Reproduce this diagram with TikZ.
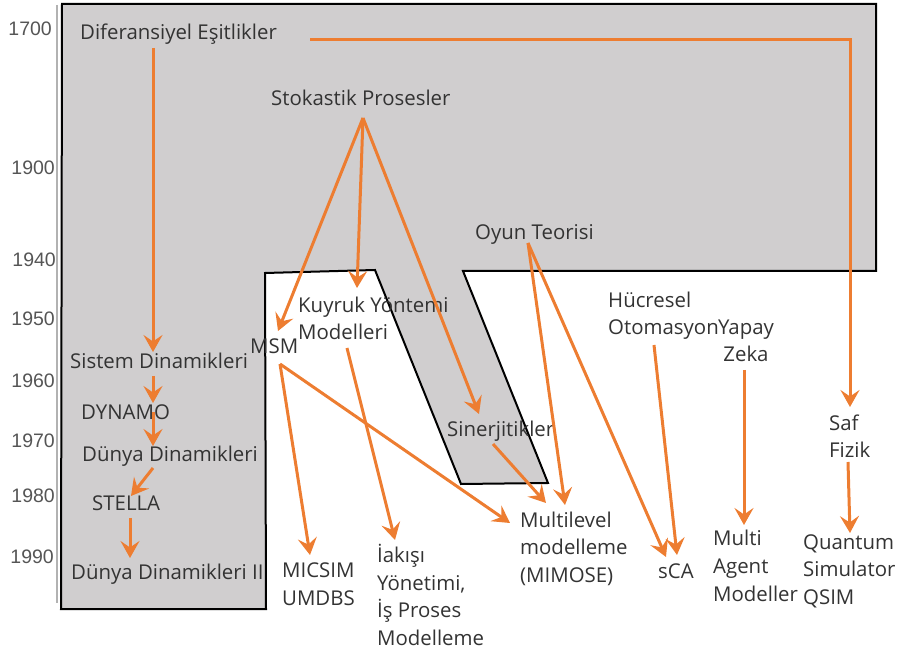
\documentclass[tikz,border=0pt]{standalone}
\usepackage{fontspec}
\setmainfont{Open Sans}
\newfontfamily\yearfont{Liberation Sans}
\usetikzlibrary{arrows.meta}
\definecolor{og}{HTML}{ED7D31}
\definecolor{gfill}{HTML}{D0CECF}
\definecolor{txt}{HTML}{333333}
\definecolor{yr}{HTML}{555555}
\begin{document}
\begin{tikzpicture}[x=1pt,y=-1pt,
 lbl/.style={anchor=base west,inner sep=0pt,text=txt,font=\fontsize{20.4}{27.5}\selectfont,align=left},
 clbl/.style={anchor=base,inner sep=0pt,text=txt,font=\fontsize{20.4}{27.5}\selectfont,align=center},
 yearlbl/.style={anchor=base east,inner sep=0pt,text=yr,font=\yearfont\fontsize{19.5}{21}\selectfont},
 arr/.style={draw=og,line width=3pt,-{Stealth[length=17pt,width=19pt,inset=6.5pt]}},
 conn/.style={draw=og,line width=3pt}]
\useasboundingbox (0,0) rectangle (906,652);
% timeline axis
\draw[gray!60,line width=1.2pt] (57,5) -- (57,603);
% grey region
\draw[fill=gfill,line width=2pt,line join=miter] (62,4) -- (876,4) -- (876,271) -- (463,271) -- (548,483) -- (461,484) -- (375,270) -- (265,273) -- (266,609) -- (61,609) -- cycle;
% years
\node[yearlbl] (y1700) at (52,36) {1700};
\node[yearlbl] (y1900) at (55,175) {1900};
\node[yearlbl] (y1940) at (56,267) {1940};
\node[yearlbl] (y1950) at (55,326) {1950};
\node[yearlbl] (y1960) at (55,388) {1960};
\node[yearlbl] (y1970) at (55,448) {1970};
\node[yearlbl] (y1980) at (55,503) {1980};
\node[yearlbl] (y1990) at (54,563) {1990};
% labels (base anchor = baseline of the last line)
\node[lbl] (dif) at (80,40) {Diferansiyel Eşitlikler};
\node[lbl] (stok) at (271,106) {Stokastik Prosesler};
\node[lbl] (oyun) at (475,240) {Oyun Teorisi};
\node[lbl] (sd) at (70,369) {Sistem Dinamikleri};
\node[lbl] (dyn) at (81,420) {DYNAMO};
\node[lbl] (dd) at (82,462) {Dünya Dinamikleri};
\node[lbl] (stella) at (92,511) {STELLA};
\node[lbl] (dd2) at (71,579) {Dünya Dinamikleri II};
\node[lbl] (msm) at (250,354) {MSM};
\node[lbl] (kuy) at (298,340) {Kuyruk Yöntemi\\Modelleri};
\node[lbl] (sin) at (447,437) {Sinerjitikler};
\node[lbl] (huc) at (608,335) {Hücresel\\Otomasyon};
\node[clbl] (yz) at (746,362) {Yapay\\Zeka};
\node[lbl] (saf) at (829,458) {Saf\\Fizik};
\node[lbl] (mim) at (520,582) {Multilevel\\modelleme\\(MIMOSE)};
\node[lbl] (mic) at (282,605) {MICSIM\\UMDBS};
\node[lbl] (isak) at (377,645) {İakışı\\Yönetimi,\\İş Proses\\Modelleme};
\node[lbl] (sca) at (658,578) {sCA};
\node[lbl] (mam) at (713,601) {Multi\\Agent\\Modeller};
\node[lbl] (qs) at (803,604) {Quantum\\Simulator\\QSIM};
% connector end points
\coordinate (difOut) at (153,48);
\coordinate (difOutR) at (310,40);
\coordinate (sdIn) at (153,352);
\coordinate (safIn) at (850,407);
\coordinate (stokOut) at (363,118);
\coordinate (msmIn) at (278,331);
\coordinate (kuyIn) at (357,288);
\coordinate (sinIn) at (479,414);
\coordinate (sdOut) at (153,376);
\coordinate (dynIn) at (153,403);
\coordinate (dynOut) at (153,412);
\coordinate (ddIn) at (153,446);
\coordinate (ddOut) at (153,468);
\coordinate (stellaIn) at (131,496);
\coordinate (stellaOut) at (130,518);
\coordinate (ddiiIn) at (130,558);
\coordinate (msmOut) at (280,364);
\coordinate (micIn) at (310,555);
\coordinate (mimInA) at (510,523);
\coordinate (kuyOut) at (347,348);
\coordinate (isakIn) at (395,540);
\coordinate (sinOut) at (493,444);
\coordinate (mimInB) at (546,503);
\coordinate (oyunOut) at (528,243);
\coordinate (mimInC) at (565,505);
\coordinate (scaInA) at (666,557);
\coordinate (hucOut) at (654,345);
\coordinate (scaInB) at (677,555);
\coordinate (yzOut) at (744,370);
\coordinate (mamIn) at (744,525);
\coordinate (safOut) at (848,462);
\coordinate (qsIn) at (850,533);
% connectors
\draw[arr] (difOut) -- (sdIn);
\draw[arr] (difOutR) -| (safIn);
\draw[arr] (stokOut) -- (msmIn);
\draw[arr] (stokOut) -- (kuyIn);
\draw[arr] (stokOut) -- (sinIn);
\draw[arr] (sdOut) -- (dynIn);
\draw[arr] (dynOut) -- (ddIn);
\draw[arr] (ddOut) -- (stellaIn);
\draw[arr] (stellaOut) -- (ddiiIn);
\draw[arr] (msmOut) -- (micIn);
\draw[arr] (msmOut) -- (mimInA);
\draw[arr] (kuyOut) -- (isakIn);
\draw[arr] (sinOut) -- (mimInB);
\draw[arr] (oyunOut) -- (mimInC);
\draw[arr] (oyunOut) -- (scaInA);
\draw[arr] (hucOut) -- (scaInB);
\draw[arr] (yzOut) -- (mamIn);
\draw[arr] (safOut) -- (qsIn);
\end{tikzpicture}
\end{document}
